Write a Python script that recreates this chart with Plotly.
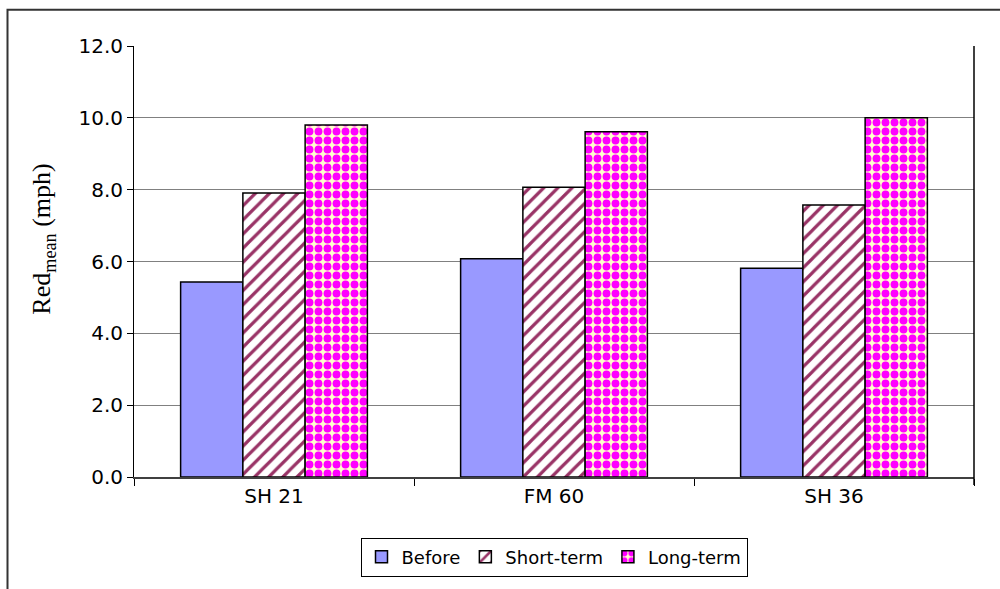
import plotly.graph_objects as go

# Sites and mean speed reduction (mph) per study period
sites = ["SH 21", "FM 60", "SH 36"]
before = [5.43, 6.08, 5.81]
short_term = [7.91, 8.07, 7.57]
long_term = [9.80, 9.61, 10.0]

W, H = 1000, 589
L, R, T, B = 134, 26, 46, 109
pw, ph = W - L - R, H - T - B


def px_x(x):
    return (x - L) / pw


def px_y(y):
    return (H - B - y) / ph


SANS = "DejaVu Sans, Liberation Sans, Arial"

fig = go.Figure()
fig.add_bar(
    name="Before", x=sites, y=before,
    marker=dict(color="#9999FF", line=dict(color="black", width=1.5)),
)
fig.add_bar(
    name="Short-term", x=sites, y=short_term,
    marker=dict(
        color="white", line=dict(color="black", width=1.5),
        pattern=dict(shape="/", fgcolor="#993366", bgcolor="white",
                     size=10, solidity=0.32, fillmode="replace"),
    ),
)
fig.add_bar(
    name="Long-term", x=sites, y=long_term,
    marker=dict(
        color="#FF00FF", line=dict(color="black", width=1.5),
        pattern=dict(shape=".", fgcolor="#FF00FF", bgcolor="#FFFFCC",
                     size=9, solidity=0.6, fillmode="replace"),
    ),
)

fig.update_layout(
    width=W, height=H,
    margin=dict(l=L, r=R, t=T, b=B),
    paper_bgcolor="white", plot_bgcolor="white",
    barmode="group", bargap=0.333, bargroupgap=0,
    font=dict(family=SANS, size=19, color="black"),
    showlegend=True,
    legend=dict(
        orientation="h", x=px_x(554), xanchor="center",
        y=px_y(541), yanchor="top",
        bordercolor="black", borderwidth=1, bgcolor="white",
        font=dict(family=SANS, size=18), itemwidth=30,
        tracegroupgap=0,
    ),
)

fig.update_yaxes(
    range=[0, 12], dtick=2, tickformat=".1f",
    showgrid=True, gridcolor="#808080", gridwidth=1,
    showline=True, linecolor="black", linewidth=1,
    ticks="outside", ticklen=6, tickcolor="black",
    tickfont=dict(family=SANS, size=20), zeroline=False,
)
fig.update_xaxes(
    showline=True, linecolor="#404040", linewidth=1.5,
    ticks="outside", ticklen=7, tickcolor="black", tickson="boundaries",
    tickfont=dict(family=SANS, size=20),
)

# right edge of plot area
fig.add_shape(type="line", xref="paper", yref="paper",
              x0=1, x1=1, y0=px_y(488), y1=1,
              line=dict(color="black", width=1.5))

# outer chart frame
fig.add_shape(type="rect", xref="paper", yref="paper",
              x0=px_x(7.5), x1=px_x(1010), y0=px_y(600), y1=px_y(9.5),
              line=dict(color="#333333", width=2), layer="above")

# y-axis title with subscript
fig.add_annotation(
    xref="paper", yref="paper", x=px_x(43), y=px_y(241),
    xanchor="center", yanchor="middle",
    text="Red<sub>mean</sub> (mph)", textangle=-90, showarrow=False,
    font=dict(family="Liberation Serif, Times New Roman", size=26, color="black"),
)

fig.write_html("out.html")
